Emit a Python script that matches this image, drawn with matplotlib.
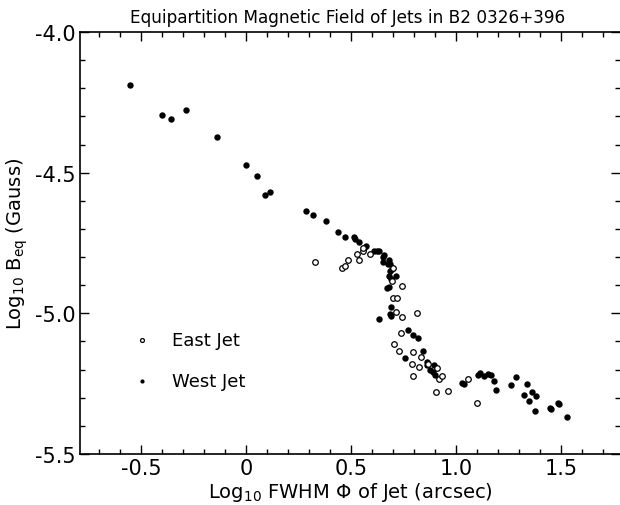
import matplotlib.pyplot as plt
import numpy as np
from matplotlib.ticker import MultipleLocator, FixedLocator, FixedFormatter

plt.rcParams['axes.unicode_minus'] = False
plt.rcParams['font.family'] = 'DejaVu Sans'
plt.rcParams['mathtext.fontset'] = 'dejavusans'

# log10 FWHM (arcsec) vs log10 B_eq (Gauss)
west_x = [-0.553, -0.400, -0.359, -0.284, -0.140, 0.001, 0.052, 0.089, 0.114,
          0.286, 0.319, 0.382, 0.440, 0.473, 0.513, 0.518, 0.538, 0.573,
          0.563, 0.611, 0.625, 0.633, 0.659, 0.654, 0.652, 0.679, 0.675,
          0.686, 0.697, 0.686, 0.681, 0.714, 0.690, 0.673, 0.681, 0.689,
          0.632, 0.686, 0.689, 0.769, 0.796, 0.819, 0.844, 0.759, 0.863,
          0.862, 0.878, 0.897, 0.900, 0.889, 1.027, 1.037, 1.103, 1.114,
          1.133, 1.152, 1.167, 1.181, 1.190, 1.263, 1.286, 1.337, 1.321,
          1.363, 1.378, 1.349, 1.375, 1.449, 1.454, 1.485, 1.492, 1.526]
west_y = [-4.188, -4.294, -4.310, -4.279, -4.374, -4.473, -4.513, -4.580, -4.567,
          -4.636, -4.650, -4.673, -4.712, -4.729, -4.727, -4.736, -4.745, -4.759,
          -4.768, -4.780, -4.777, -4.780, -4.792, -4.799, -4.818, -4.811, -4.823,
          -4.823, -4.843, -4.851, -4.866, -4.866, -4.878, -4.910, -4.908, -4.978,
          -5.019, -5.003, -5.011, -5.058, -5.077, -5.086, -5.133, -5.159, -5.174,
          -5.182, -5.202, -5.184, -5.219, -5.210, -5.248, -5.251, -5.219, -5.211,
          -5.221, -5.215, -5.220, -5.242, -5.271, -5.254, -5.227, -5.252, -5.292,
          -5.279, -5.294, -5.311, -5.348, -5.338, -5.341, -5.319, -5.323, -5.367]

east_x = [0.329, 0.456, 0.473, 0.486, 0.540, 0.527, 0.557, 0.559, 0.590,
          0.700, 0.697, 0.743, 0.700, 0.721, 0.713, 0.743, 0.813, 0.740,
          0.705, 0.730, 0.797, 0.835, 0.790, 0.823, 0.866, 0.795, 0.909,
          0.917, 0.932, 1.057, 0.905, 0.962, 1.099]
east_y = [-4.818, -4.839, -4.830, -4.810, -4.810, -4.790, -4.780, -4.769, -4.790,
          -4.839, -4.886, -4.904, -4.945, -4.945, -4.995, -5.012, -5.000, -5.069,
          -5.110, -5.134, -5.138, -5.156, -5.181, -5.190, -5.181, -5.222, -5.194,
          -5.232, -5.223, -5.232, -5.280, -5.275, -5.319]

xticks = [-0.5, 0, 0.5, 1.0, 1.5]
xtick_labels = ['-0.5', '0', '0.5', '1.0', '1.5']
yticks = [-5.5, -5.0, -4.5, -4.0]
ytick_labels = ['-5.5', '-5.0', '-4.5', '-4.0']
legend_labels = ['East Jet', 'West Jet']

fig = plt.figure(figsize=(6.2, 5.06), dpi=100)
ax = fig.add_axes([0.129, 0.1008, 0.871, 0.834])

ax.plot(west_x, west_y, 'o', color='black', markersize=4.6, markeredgewidth=0)
ax.plot(east_x, east_y, 'o', markerfacecolor='white', markeredgecolor='black',
        markersize=4.0, markeredgewidth=0.9)

ax.set_xlim(-0.79, 1.78)
ax.set_ylim(-5.5, -4.0)

ax.xaxis.set_major_locator(FixedLocator(xticks))
ax.xaxis.set_major_formatter(FixedFormatter(xtick_labels))
ax.xaxis.set_minor_locator(MultipleLocator(0.1))
ax.yaxis.set_major_locator(FixedLocator(yticks))
ax.yaxis.set_major_formatter(FixedFormatter(ytick_labels))
ax.yaxis.set_minor_locator(MultipleLocator(0.1))

ax.tick_params(which='both', direction='in', top=True, right=True,
               width=1.0, labelsize=15, color='black')
ax.tick_params(which='major', length=6.5)
ax.tick_params(which='minor', length=3.5)
ax.tick_params(axis='x', pad=3)
ax.tick_params(axis='y', pad=3)
ax.spines['right'].set_visible(False)
for s in ['left', 'bottom', 'top']:
    ax.spines[s].set_linewidth(1.2)

ax.set_xlabel(r'Log$_{10}$ FWHM $\Phi$ of Jet (arcsec)', fontsize=14, labelpad=1)
ax.set_ylabel(r'Log$_{10}$ B$_{\rm eq}$ (Gauss)', fontsize=14, labelpad=4)
fig.text(0.56, 0.965, 'Equipartition Magnetic Field of Jets in B2 0326+396',
         ha='center', va='center', fontsize=12.2)

# legend drawn by hand
ax.plot([0.114], [0.270], 'o', transform=ax.transAxes, markerfacecolor='white',
        markeredgecolor='black', markersize=2.8, markeredgewidth=0.9)
ax.plot([0.114], [0.173], 'o', transform=ax.transAxes, color='black',
        markersize=3.0, markeredgewidth=0)
ax.text(0.170, 0.270, legend_labels[0], transform=ax.transAxes, va='center', fontsize=13)
ax.text(0.170, 0.173, legend_labels[1], transform=ax.transAxes, va='center', fontsize=13)

fig.savefig('out.png', dpi=100)
